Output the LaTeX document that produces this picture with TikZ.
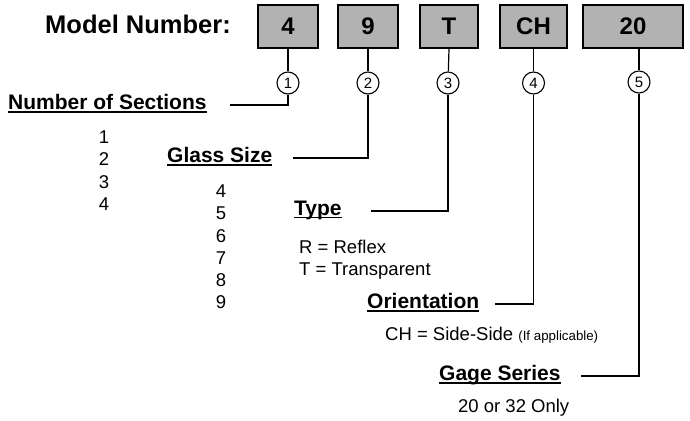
\documentclass[tikz,border=0pt]{standalone}
\usepackage{fontspec}
\setmainfont{Liberation Sans}
\newcommand{\hdul}[1]{\leavevmode\setbox0=\hbox{#1}\rlap{\vrule height -1.5pt depth 3.3pt width \wd0}\box0}
\begin{document}
\begin{tikzpicture}[x=1pt,y=-1pt,
  codebox/.style={draw=black,line width=1.2pt,fill=black!30,minimum height=43pt,inner sep=0pt,
    font=\fontsize{24}{28}\selectfont\bfseries},
  numcirc/.style={circle,draw=black,line width=1.1pt,fill=white,minimum size=22pt,inner sep=0pt,
    font=\fontsize{15}{17}\selectfont},
  head/.style={anchor=west,inner sep=0pt,font=\fontsize{21}{24}\selectfont\bfseries},
  body/.style={inner sep=0pt,font=\fontsize{18.5}{22.2}\selectfont},
  conn/.style={line width=1.2pt,black}]
\useasboundingbox (0,0) rectangle (690,420);
\node[anchor=west,inner sep=0pt,font=\fontsize{25.5}{28}\selectfont\bfseries] (title) at (45,24) {Model Number:};
% code boxes
\node[codebox,minimum width=60pt] (b1) at (288,26.5) {4};
\node[codebox,minimum width=60pt] (b2) at (368,26.5) {9};
\node[codebox,minimum width=58pt] (b3) at (449,26.5) {T};
\node[codebox,minimum width=67pt] (b4) at (533.5,26.5) {CH};
\node[codebox,minimum width=100pt] (b5) at (633,26.5) {20};
% circles
\node[numcirc] (c1) at (288,83) {1};
\node[numcirc] (c2) at (368,83) {2};
\node[numcirc] (c3) at (448,83) {3};
\node[numcirc] (c4) at (533.5,83) {4};
\node[numcirc] (c5) at (639,82) {5};
\draw[conn] (b1.south) -- (c1);
\draw[conn] (b2.south) -- (c2);
\draw[conn] (b3.south) -- (c3);
\draw[conn] (b4.south) -- (c4);
\draw[conn] (c5 |- b5.south) -- (c5);
% headings
\node[head] (h1) at (8,104) {\hdul{Number of Sections}};
\node[head] (h2) at (167,157) {\hdul{Glass Size}};
\node[head] (h3) at (294,210) {\hdul{Type}};
\node[head] (h4) at (367,303) {\hdul{Orientation}};
\node[head] (h5) at (439,375) {\hdul{Gage Series}};
\coordinate (e1) at (230,105);
\coordinate (e2) at (293,158);
\coordinate (e3) at (371,211);
\coordinate (e4) at (495,304);
\coordinate (e5) at (581,376);
\draw[conn] (c1) |- (e1);
\draw[conn] (c2) |- (e2);
\draw[conn] (c3) |- (e3);
\draw[conn] (c4) |- (e4);
\draw[conn] (c5) |- (e5);
% values
\node[body,anchor=north] (v1) at (104,128) {\begin{tabular}{@{}c@{}}1\\2\\3\\4\end{tabular}};
\node[body,anchor=north] (v2) at (221,182) {\begin{tabular}{@{}c@{}}4\\5\\6\\7\\8\\9\end{tabular}};
\node[body,anchor=north west] (v3) at (299,238) {\begin{tabular}{@{}l@{}}R = Reflex\\T = Transparent\end{tabular}};
\node[body,anchor=west] (v4) at (385,335) {CH = Side-Side {\fontsize{13.3}{15}\selectfont (If applicable)}};
\node[body,anchor=west] (v5) at (458,408) {20 or 32 Only};
\end{tikzpicture}
\end{document}
